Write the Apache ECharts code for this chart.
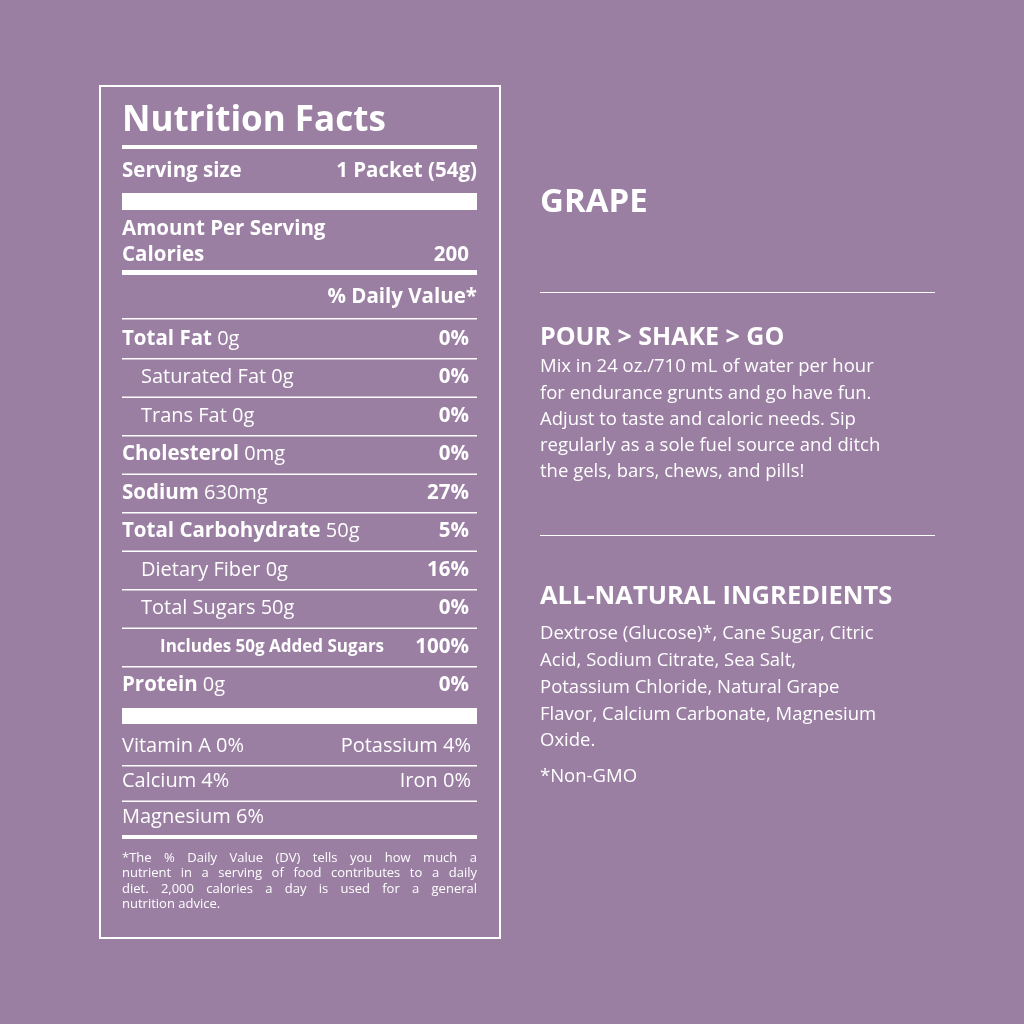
<!DOCTYPE html>
<html>
<head>
<meta charset="utf-8">
<script src="https://cdn.jsdelivr.net/npm/echarts@6/dist/echarts.min.js"></script>
<style>
  html, body { margin: 0; padding: 0; background: #9a7fa3; }
  #chart { width: 1024px; height: 1024px; }
</style>
</head>
<body>
<div id="chart"></div>
<script>
var FONT = '"Open Sans", "Noto Sans", sans-serif';
var WHITE = '#ffffff';

// label rows: level 0 = bold name, 1 = indented, 2 = added sugars
var nutrientNames = ['Total Fat', 'Saturated Fat', 'Trans Fat', 'Cholesterol', 'Sodium',
    'Total Carbohydrate', 'Dietary Fiber', 'Total Sugars', 'Includes 50g Added Sugars', 'Protein'];
var nutrientAmounts = ['0g', '0g', '0g', '0mg', '630mg', '50g', '0g', '50g', '', '0g'];
var nutrientDV = ['0%', '0%', '0%', '0%', '27%', '5%', '16%', '0%', '100%', '0%'];
var nutrientLevel = [0, 1, 1, 0, 0, 0, 1, 1, 2, 0];

var vitaminLeft = ['Vitamin A 0%', 'Calcium 4%', 'Magnesium 6%'];
var vitaminRight = ['Potassium 4%', 'Iron 0%', ''];

var footnote = [
    '*The % Daily Value (DV) tells you how much a',
    'nutrient in a serving of food contributes to a daily',
    'diet. 2,000 calories a day is used for a general',
    'nutrition advice.'
];

var flavor = 'GRAPE';
var directionsTitle = 'POUR > SHAKE > GO';
var directions = [
    'Mix in 24 oz./710 mL of water per hour',
    'for endurance grunts and go have fun.',
    'Adjust to taste and caloric needs. Sip',
    'regularly as a sole fuel source and ditch',
    'the gels, bars, chews, and pills!'
];
var ingredientsTitle = 'ALL-NATURAL INGREDIENTS';
var ingredients = [
    'Dextrose (Glucose)*, Cane Sugar, Citric',
    'Acid, Sodium Citrate, Sea Salt,',
    'Potassium Chloride, Natural Grape',
    'Flavor, Calcium Carbonate, Magnesium',
    'Oxide.'
];
var ingredientsNote = '*Non-GMO';

var L = 122, R = 477;
var els = [];
var measureCtx = document.createElement('canvas').getContext('2d');

function txt(x, y, str, size, weight, align, rich) {
    var s = {
        x: x, y: y, text: str, fill: WHITE,
        font: weight + ' ' + size + 'px ' + FONT,
        textAlign: align || 'left', textVerticalAlign: 'middle'
    };
    if (rich) s.rich = rich;
    els.push({ type: 'text', style: s });
}
function bar(y, h, x0, x1) {
    els.push({ type: 'rect', shape: { x: x0 || L, y: y, width: (x1 || R) - (x0 || L), height: h },
        style: { fill: WHITE } });
}
// justified line: spread words between x0 and x1
function justified(y, line, size) {
    var font = size + 'px ' + FONT;
    measureCtx.font = font;
    var words = line.split(' ');
    var total = 0;
    words.forEach(function (w) { total += measureCtx.measureText(w).width; });
    var gap = (R - L - total) / (words.length - 1);
    var x = L;
    words.forEach(function (w) {
        txt(x, y, w, size, 'normal');
        x += measureCtx.measureText(w).width + gap;
    });
}

// outer box
els.push({ type: 'rect', shape: { x: 100, y: 86, width: 400, height: 852 },
    style: { fill: 'none', stroke: WHITE, lineWidth: 2 } });

txt(L, 121, 'Nutrition Facts', 35, 'bold');
bar(145, 4);
txt(L, 171, 'Serving size', 20.5, 'bold');
txt(R, 171, '1 Packet (54g)', 20.5, 'bold', 'right');
bar(193, 17);
txt(L, 229, 'Amount Per Serving', 20.5, 'bold');
txt(L, 255, 'Calories', 20.5, 'bold');
txt(469, 255, '200', 20.5, 'bold', 'right');
bar(270, 5);
txt(R, 297, '% Daily Value*', 20.5, 'bold', 'right');
bar(318, 1.5);

var rich = {
    b: { font: 'bold 20.5px ' + FONT, fill: WHITE },
    n: { font: '20px ' + FONT, fill: WHITE },
    s: { font: 'bold 17px ' + FONT, fill: WHITE }
};
var rowStep = 38.5;
for (var i = 0; i < nutrientNames.length; i++) {
    var y = 339 + i * rowStep;
    var lv = nutrientLevel[i];
    var x = lv === 0 ? L : (lv === 1 ? 141 : 160);
    var str;
    if (lv === 0) str = '{b|' + nutrientNames[i] + '} {n|' + nutrientAmounts[i] + '}';
    else if (lv === 1) str = '{n|' + nutrientNames[i] + ' ' + nutrientAmounts[i] + '}';
    else str = '{s|' + nutrientNames[i] + '}';
    txt(x, y, str, 20, 'normal', 'left', rich);
    txt(469, y, nutrientDV[i], 20.5, 'bold', 'right');
    if (i < nutrientNames.length - 1) bar(y + 19, 1.5);
}
bar(708, 16);
for (var j = 0; j < vitaminLeft.length; j++) {
    var vy = 746 + j * 35.5;
    txt(L, vy, vitaminLeft[j], 20, 'normal');
    if (vitaminRight[j]) txt(471, vy, vitaminRight[j], 20, 'normal', 'right');
    if (j < vitaminLeft.length - 1) bar(vy + 19, 1.5);
}
bar(835, 4);
for (var k = 0; k < footnote.length; k++) {
    var fy = 858 + k * 15.5;
    if (k < footnote.length - 1) justified(fy, footnote[k], 13);
    else txt(L, fy, footnote[k], 13, 'normal');
}

// right column
var RX = 540, RR = 935;
txt(RX, 203, flavor, 33, 'bold');
bar(292, 1, RX, RR);
txt(RX, 338, directionsTitle, 25, 'bold');
for (var d = 0; d < directions.length; d++) txt(RX, 367 + d * 26.3, directions[d], 18.5, 'normal');
bar(535, 1, RX, RR);
txt(RX, 597, ingredientsTitle, 25.5, 'bold');
for (var g = 0; g < ingredients.length; g++) txt(RX, 634 + g * 26.8, ingredients[g], 18.5, 'normal');
txt(RX, 777, ingredientsNote, 18.5, 'normal');

var chart = echarts.init(document.getElementById('chart'));
chart.setOption({
    backgroundColor: '#9a7fa3',
    animation: false,
    graphic: { elements: els }
});
</script>
</body>
</html>
